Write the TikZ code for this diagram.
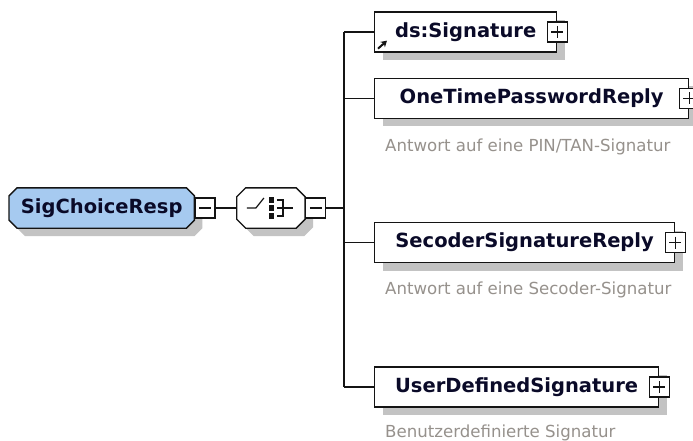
\documentclass[tikz,border=0pt]{standalone}
\usepackage{fontspec}
\setsansfont{DejaVu Sans}
\usepackage{tikz}
\usetikzlibrary{arrows.meta, positioning, shadows, calc, backgrounds}
\definecolor{cRoot}{RGB}{166,202,240}
\definecolor{cShadow}{RGB}{195,195,195}
\definecolor{cLine}{RGB}{20,20,20}
\definecolor{cText}{RGB}{10,10,40}
\definecolor{cDesc}{RGB}{150,145,140}
% octagon round a node: #1 node, #2 chamfer, #3/#4 shift
\newcommand\octpath[4]{%
  ([xshift=#2+#3, yshift=#4]#1.north west) --
  ([xshift=-#2+#3, yshift=#4]#1.north east) --
  ([xshift=#3, yshift=-#2+#4]#1.north east) --
  ([xshift=#3, yshift=#2+#4]#1.south east) --
  ([xshift=-#2+#3, yshift=#4]#1.south east) --
  ([xshift=#2+#3, yshift=#4]#1.south west) --
  ([xshift=#3, yshift=#2+#4]#1.south west) --
  ([xshift=#3, yshift=-#2+#4]#1.north west) -- cycle}
\tikzset{
  shadowed/.style={drop shadow={shadow xshift=8pt, shadow yshift=-8pt,
                   fill=cShadow, opacity=1}},
  nodefont/.style={font=\sffamily\bfseries\fontsize{19.5}{23}\selectfont, text=cText},
  elembox/.style={rectangle, draw=cLine, line width=1.3pt, fill=white,
                  shadowed, minimum height=40pt, inner sep=0pt, nodefont},
  octbox/.style={rectangle, minimum height=40pt, inner sep=0pt, nodefont},
  togglebox/.style={rectangle, draw=cLine, line width=1.3pt, fill=white,
                    minimum size=20pt, inner sep=0pt},
  minusbox/.style={togglebox, path picture={
      \draw[line width=1.3pt, cLine]
        ([xshift=4pt]path picture bounding box.west) --
        ([xshift=-4pt]path picture bounding box.east);}},
  plusbox/.style={togglebox, path picture={
      \draw[line width=1.3pt, cLine]
        ([xshift=4pt]path picture bounding box.west) --
        ([xshift=-4pt]path picture bounding box.east)
        ([yshift=-4pt]path picture bounding box.north) --
        ([yshift=4pt]path picture bounding box.south);}},
  descnode/.style={font=\sffamily\fontsize{16.6}{19}\selectfont, text=cDesc,
                   inner sep=0pt, anchor=base west},
  wire/.style={draw=cLine, line width=1.4pt}
}

\begin{document}
\begin{tikzpicture}[x=1pt, y=-1pt]
  \useasboundingbox (0,0) rectangle (693,441);

  % root element and choice compositor
  \node[octbox, minimum width=185pt, anchor=west] (root) at (9,208) {SigChoiceResp};
  \node[minusbox, anchor=west] (rootmin) at (root.east) {};
  \node[octbox, minimum width=68pt, right=21pt of rootmin] (choice) {};
  \node[minusbox, anchor=west] (choicemin) at (choice.east) {};
  \coordinate (bus) at (344,208);
  \begin{scope}[on background layer]
    \fill[white] (0,0) rectangle (693,441);
    \fill[cShadow] \octpath{root}{8pt}{8pt}{-8pt};
    \filldraw[wire, fill=cRoot] \octpath{root}{8pt}{0pt}{0pt};
    \fill[cShadow] \octpath{choice}{9pt}{8pt}{-8pt};
    \filldraw[wire, fill=white] \octpath{choice}{9pt}{0pt}{0pt};
  \end{scope}

  % choice symbol
  \draw[wire, line width=1.2pt] ($(choice)+(-24,0)$) -- ($(choice)+(-15,0)$) -- ($(choice)+(-7,-10)$);
  \foreach \dy in {-8,0,8}
    \fill[cLine] ($(choice)+(-2,\dy-2.6)$) rectangle ($(choice)+(3,\dy+2.6)$);
  \draw[wire, line width=1.2pt] ($(choice)+(6,-8)$) -- ($(choice)+(12,-8)$) -- ($(choice)+(12,8)$) -- ($(choice)+(6,8)$);
  \draw[wire, line width=1.2pt] ($(choice)+(6,0)$) -- ($(choice)+(22,0)$);

  % child elements
  \node[elembox, minimum width=182pt, anchor=west] (sig) at (374,32) {ds:Signature};
  \node[elembox, minimum width=314pt, anchor=west] (otp) at (374,98.5) {OneTimePasswordReply};
  \node[elembox, minimum width=300pt, anchor=west] (sec) at (374,242.5) {SecoderSignatureReply};
  \node[elembox, minimum width=284pt, anchor=west] (user) at (374,387) {UserDefinedSignature};

  \node[plusbox] (sigplus) at (sig.east) {};
  \node[plusbox] (otpplus) at (otp.east) {};
  \node[plusbox] (secplus) at (sec.east) {};
  \node[plusbox] (userplus) at (user.east) {};

  % reference arrow
  \draw[cLine, line width=2pt, -{Stealth[length=6pt, width=7pt]}]
    ([shift={(4,-4)}]sig.south west) -- ++(9,-8);

  \node[descnode] (otpdesc) at ([xshift=11pt, yshift=-32pt]otp.south west) {Antwort auf eine PIN/TAN-Signatur};
  \node[descnode] (secdesc) at ([xshift=11pt, yshift=-31pt]sec.south west) {Antwort auf eine Secoder-Signatur};
  \node[descnode] (userdesc) at ([xshift=11pt, yshift=-30pt]user.south west) {Benutzerdefinierte Signatur};

  % connectors
  \draw[wire] (rootmin) -- (choice);
  \draw[wire] (choicemin) -- (bus);
  \draw[wire] (sig.west -| bus) -- (user.west -| bus);
  \foreach \n in {sig, otp, sec, user}
    \draw[wire] (\n.west -| bus) -- (\n.west);
\end{tikzpicture}
\end{document}
